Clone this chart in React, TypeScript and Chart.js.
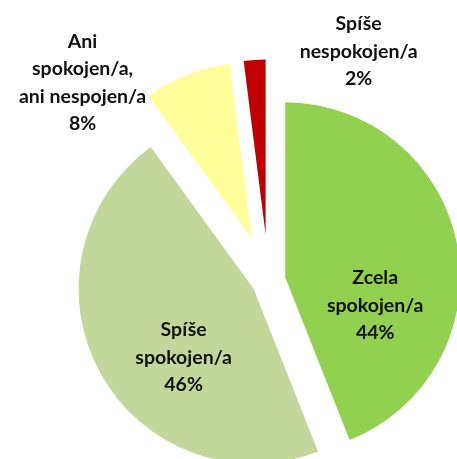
import React, { useEffect, useRef } from "react";
import { Chart, registerables } from "chart.js";

Chart.register(...registerables);

const categories = [
  "Zcela spokojen/a",
  "Spíše spokojen/a",
  "Ani spokojen/a, ani nespojen/a",
  "Spíše nespokojen/a",
];
const labelLines = [
  ["Zcela", "spokojen/a"],
  ["Spíše", "spokojen/a"],
  ["Ani", "spokojen/a,", "ani nespojen/a"],
  ["Spíše", "nespokojen/a"],
];
const values = [44, 46, 8, 2];
const colors = ["#92D050", "#C4D79B", "#FFFF99", "#C00000"];

// styling: explosion distance per slice and label offset from slice apex
const explode = [17, 17, 46, 46];
const labelOffsets = [
  [90, 28],
  [-70, 69],
  [-169, -155],
  [93, -183],
];

const explodePlugin = {
  id: "explode",
  afterDatasetsUpdate(chart: any) {
    const meta = chart.getDatasetMeta(0);
    meta.data.forEach((arc: any, i: number) => {
      const mid = (arc.startAngle + arc.endAngle) / 2;
      arc.x += Math.cos(mid) * explode[i];
      arc.y += Math.sin(mid) * explode[i];
    });
  },
};

const labelPlugin = {
  id: "sliceLabels",
  afterDatasetsDraw(chart: any) {
    const ctx = chart.ctx;
    const meta = chart.getDatasetMeta(0);
    const ds = chart.data.datasets[0];
    ctx.save();
    ctx.font = "bold 19.5px Lato";
    ctx.fillStyle = "#111111";
    ctx.textAlign = "center";
    ctx.textBaseline = "middle";
    const lh = 27.5;
    meta.data.forEach((arc: any, i: number) => {
      const lines = [...labelLines[i], `${ds.data[i]}%`];
      const cx = arc.x + labelOffsets[i][0];
      const cy = arc.y + labelOffsets[i][1];
      const y0 = cy - ((lines.length - 1) * lh) / 2;
      lines.forEach((t, k) => ctx.fillText(t, cx, y0 + k * lh));
    });
    ctx.restore();
  },
};

export default function App() {
  const ref = useRef<HTMLCanvasElement>(null);
  useEffect(() => {
    const chart = new Chart(ref.current!, {
      type: "pie",
      data: {
        labels: categories,
        datasets: [
          {
            data: values,
            backgroundColor: colors,
            borderWidth: 0,
            clip: false,
          } as any,
        ],
      },
      options: {
        animation: false,
        responsive: false,
        radius: 175,
        rotation: 0,
        layout: { padding: { top: 102, left: 80, right: 0, bottom: 0 } },
        plugins: { legend: { display: false }, tooltip: { enabled: false } },
      } as any,
      plugins: [explodePlugin, labelPlugin],
    });
    return () => chart.destroy();
  }, []);
  return (
    <div
      style={{
        position: "fixed",
        left: 0,
        top: 0,
        width: 457,
        height: 459,
        overflow: "hidden",
        background: "#fff",
      }}
    >
      <canvas ref={ref} width={457} height={459} style={{ display: "block" }} />
    </div>
  );
}
